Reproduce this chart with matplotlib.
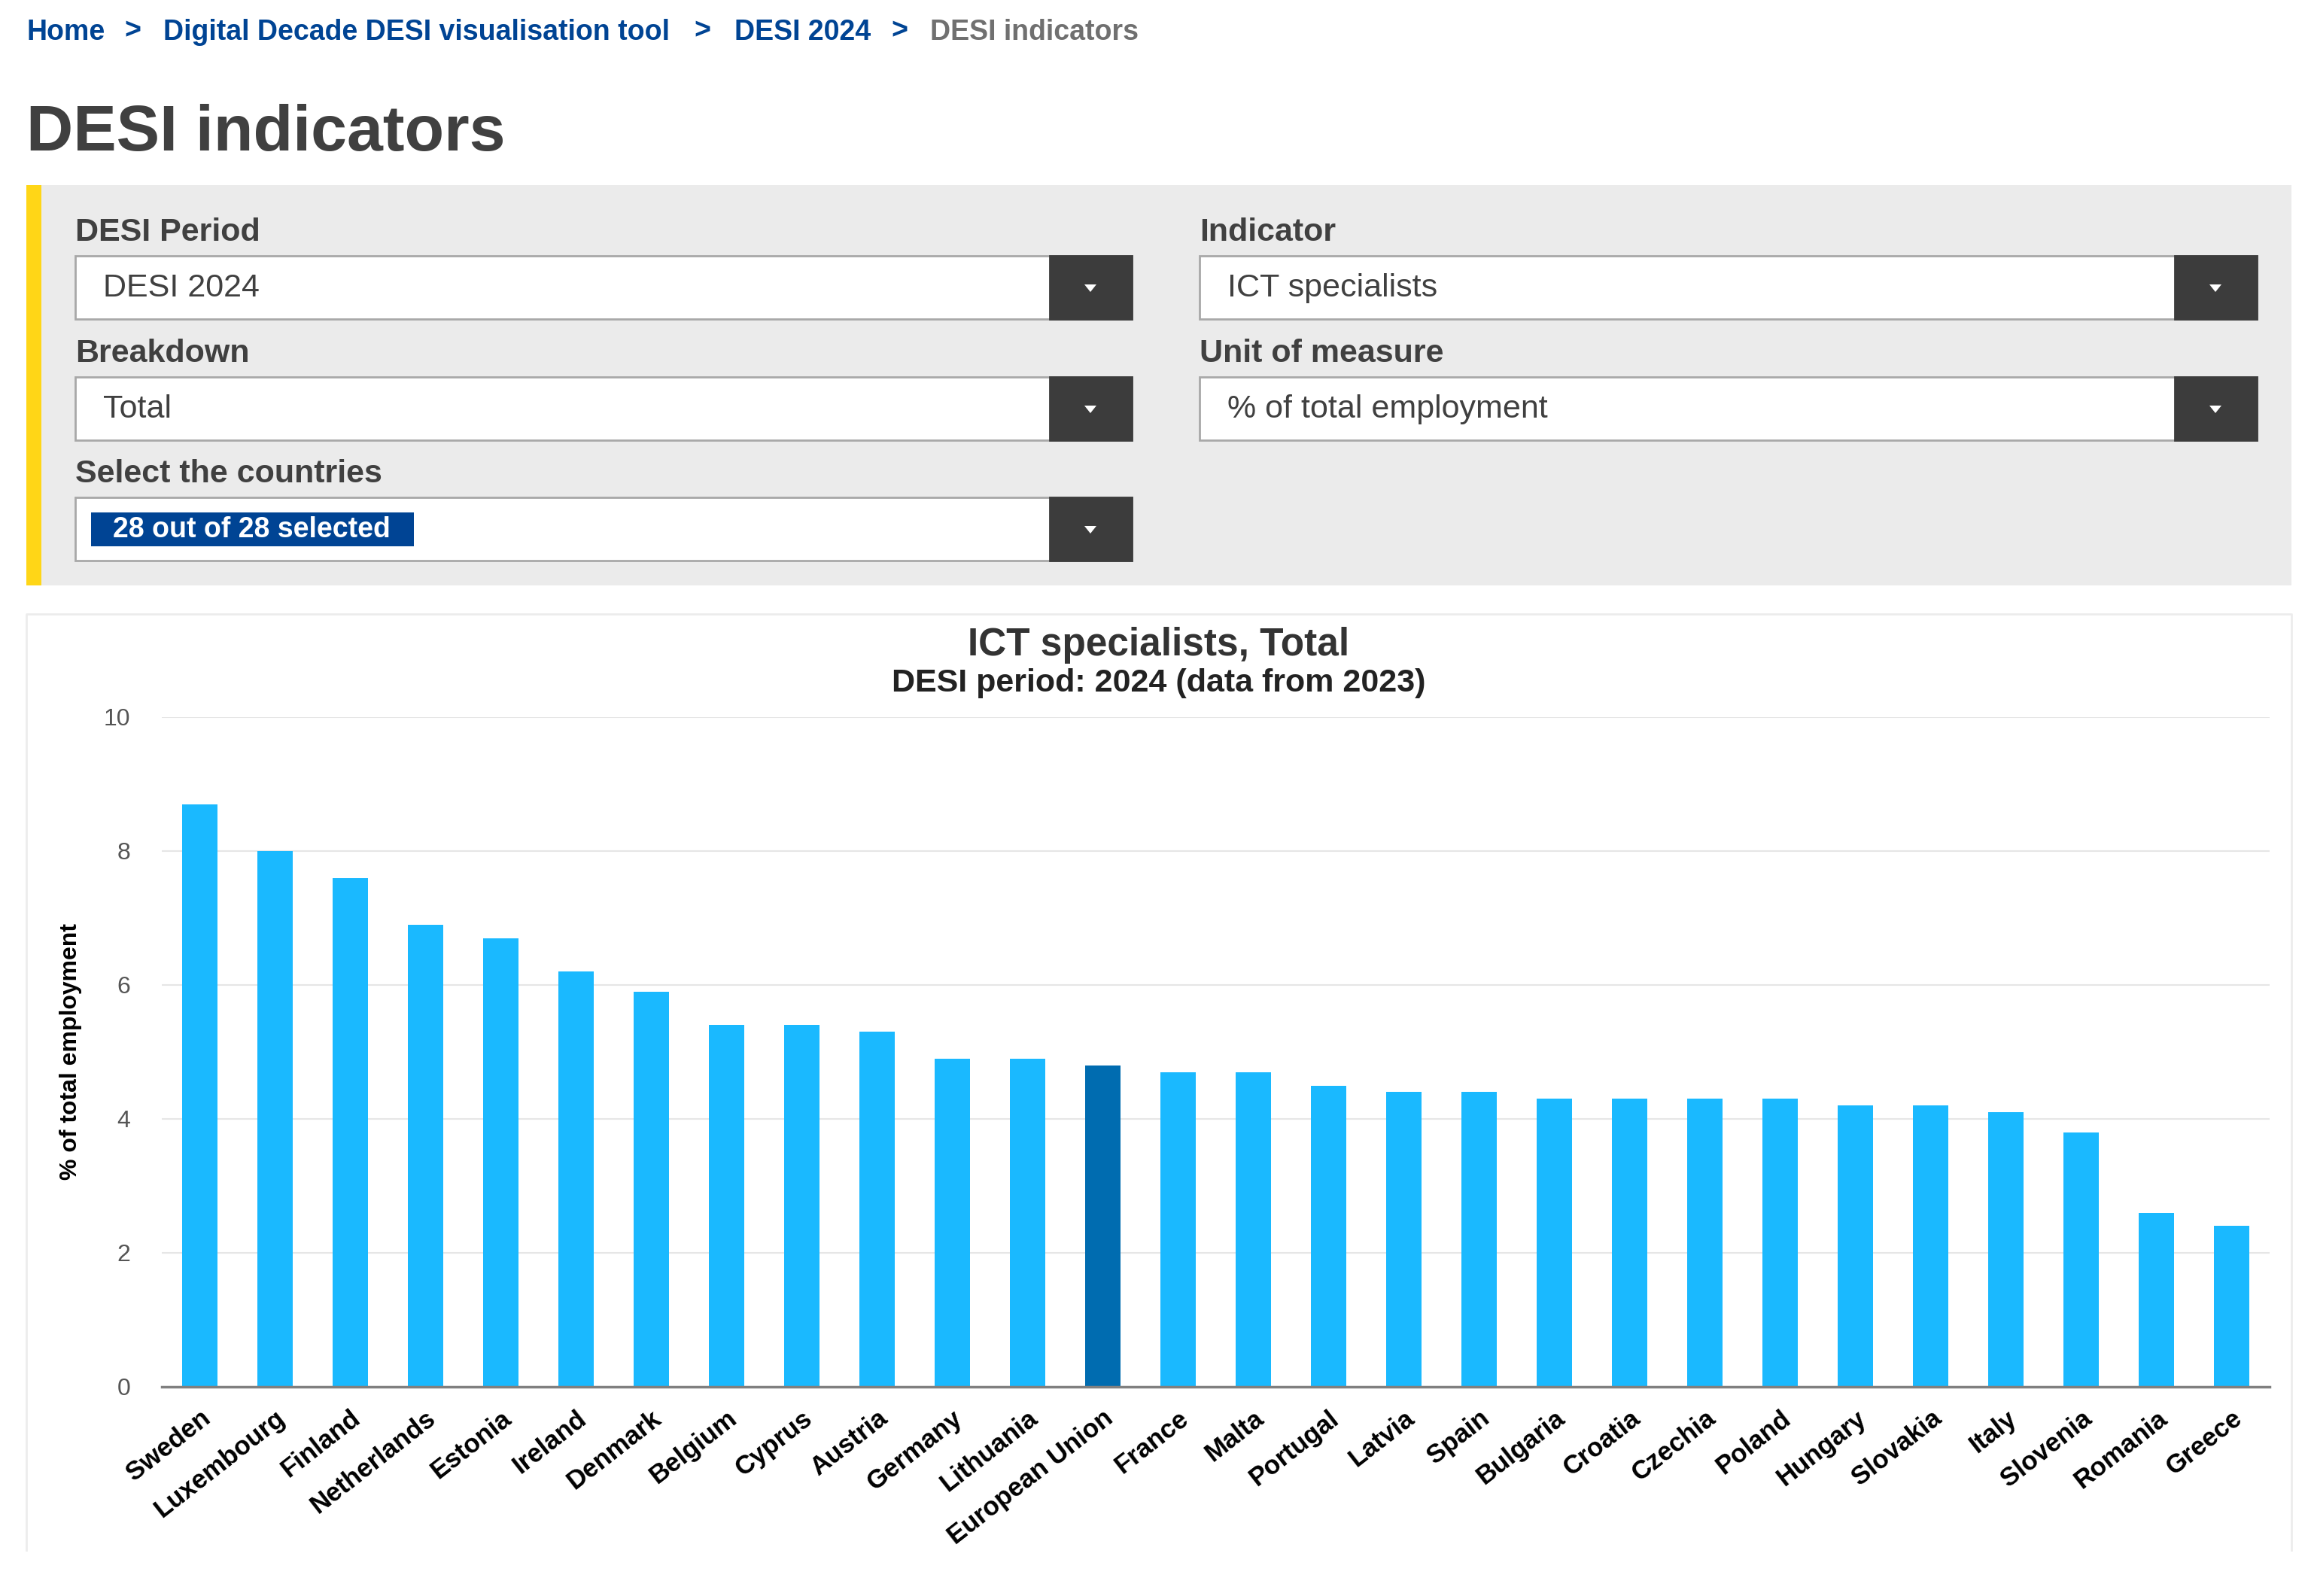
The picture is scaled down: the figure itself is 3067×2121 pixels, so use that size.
import matplotlib
matplotlib.use("Agg")
import matplotlib.pyplot as plt
from matplotlib.patches import Rectangle, Polygon
import numpy as np

# data
countries = ['Sweden', 'Luxembourg', 'Finland', 'Netherlands', 'Estonia', 'Ireland',
             'Denmark', 'Belgium', 'Cyprus', 'Austria', 'Germany', 'Lithuania',
             'European Union', 'France', 'Malta', 'Portugal', 'Latvia', 'Spain',
             'Bulgaria', 'Croatia', 'Czechia', 'Poland', 'Hungary', 'Slovakia',
             'Italy', 'Slovenia', 'Romania', 'Greece']
values = [8.7, 8.0, 7.6, 6.9, 6.7, 6.2, 5.9, 5.4, 5.4, 5.3, 4.9, 4.9,
          4.8, 4.7, 4.7, 4.5, 4.4, 4.4, 4.3, 4.3, 4.3, 4.3, 4.2, 4.2,
          4.1, 3.8, 2.6, 2.4]
yticks = [0, 2, 4, 6, 8, 10]

breadcrumb = ['Home', 'Digital Decade DESI visualisation tool', 'DESI 2024', 'DESI indicators']
chart_title = 'ICT specialists, Total'
chart_subtitle = 'DESI period: 2024 (data from 2023)'
y_label = '% of total employment'

W, H = 3067, 2121
BLUE = '#004494'
DARK = '#404040'
BAR = '#1ab9ff'
EU_BAR = '#006cb0'

plt.rcParams['font.family'] = ['Liberation Sans', 'DejaVu Sans']

fig = plt.figure(figsize=(W / 100, H / 100), dpi=100)
fig.patch.set_facecolor('white')

# page layer in pixel coordinates (origin top-left)
pg = fig.add_axes([0, 0, 1, 1])
pg.set_xlim(0, W)
pg.set_ylim(H, 0)
pg.axis('off')

# breadcrumb
crumb_x = [35, 217, 976, 1236]
chev_x = [176, 933, 1195]
for i, (txt, x) in enumerate(zip(breadcrumb, crumb_x)):
    col = BLUE if i < len(breadcrumb) - 1 else '#707070'
    pg.text(x, 43, txt, fontsize=27, fontweight='bold', color=col, va='center', ha='left')
for x in chev_x:
    pg.text(x, 41, '>', fontsize=27, fontweight='bold', color=BLUE, va='center', ha='center')

pg.text(35, 178, 'DESI indicators', fontsize=62, fontweight='bold', color=DARK, va='center', ha='left')

# filter panel
pg.add_patch(Rectangle((35, 246), 3010, 532, facecolor='#ebebeb', edgecolor='none'))
pg.add_patch(Rectangle((35, 246), 20, 532, facecolor='#ffd617', edgecolor='none'))


def dropdown(x, y, w, h, label, value, badge=False):
    pg.text(x, y - 31, label, fontsize=31, fontweight='bold', color=DARK, va='center', ha='left')
    pg.add_patch(Rectangle((x, y), w, h, facecolor='white', edgecolor='#a8a8a8', lw=2))
    pg.add_patch(Rectangle((x + w - 109, y), 109, h, facecolor='#3c3c3c', edgecolor='#3c3c3c', lw=2))
    cx, cy = x + w - 55, y + h / 2
    pg.add_patch(Polygon([[cx - 8, cy - 4], [cx + 8, cy - 4], [cx, cy + 6]], closed=True,
                         facecolor='white', edgecolor='none'))
    if badge:
        pg.add_patch(Rectangle((x + 21, y + 20), 429, 45, facecolor=BLUE, edgecolor='none'))
        pg.text(x + 50, y + h / 2 + 1, value, fontsize=27, fontweight='bold', color='white',
                va='center', ha='left')
    else:
        pg.text(x + 37, y + h / 2 + 1, value, fontsize=31, color=DARK, va='center', ha='left')


dropdown(100, 340, 1404, 84, 'DESI Period', 'DESI 2024')
dropdown(1594, 340, 1405, 84, 'Indicator', 'ICT specialists')
dropdown(100, 501, 1404, 84, 'Breakdown', 'Total')
dropdown(1594, 501, 1405, 84, 'Unit of measure', '% of total employment')
dropdown(100, 661, 1404, 84, 'Select the countries', '28 out of 28 selected', badge=True)

# chart panel border
pg.plot([35, 35, 3045, 3045], [2060, 816, 816, 2060], color='#ececec', lw=2)

pg.text(1540, 857, chart_title, fontsize=37, fontweight='bold', color='#333333', va='center', ha='center')
pg.text(1540, 908, chart_subtitle, fontsize=31, fontweight='bold', color='#222222', va='center', ha='center')

# bar chart
left, right, top, bottom = 215, 3016, 953, 1843
ax = fig.add_axes([left / W, 1 - bottom / H, (right - left) / W, (bottom - top) / H])
ax.set_facecolor('none')
x = np.arange(len(countries))
colors = [EU_BAR if c == 'European Union' else BAR for c in countries]
ax.bar(x, values, width=0.47, color=colors, zorder=3)
ax.set_xlim(-0.5, len(countries) - 0.5)
ax.set_ylim(0, 10)
ax.set_yticks(yticks)
ax.set_yticklabels([str(t) for t in yticks], fontsize=23, color='#555555')
ax.grid(axis='y', color='#e6e6e6', lw=1.5, zorder=0)
for s in ['top', 'right', 'left']:
    ax.spines[s].set_visible(False)
ax.spines['bottom'].set_color('#808080')
ax.spines['bottom'].set_linewidth(2.5)
ax.spines['bottom'].set_zorder(4)
ax.tick_params(axis='y', length=0, pad=30)
ax.tick_params(axis='x', length=0, pad=18)
ax.set_xticks(x)
ax.set_xticklabels(countries, rotation=38, ha='right', va='top', rotation_mode='anchor',
                   fontsize=25, fontweight='bold', color='black')
ax.set_ylabel(y_label, fontsize=23, fontweight='bold', color='black')
ax.yaxis.set_label_coords(-0.038, 0.5)

fig.savefig('out.png', dpi=100, facecolor='white')
